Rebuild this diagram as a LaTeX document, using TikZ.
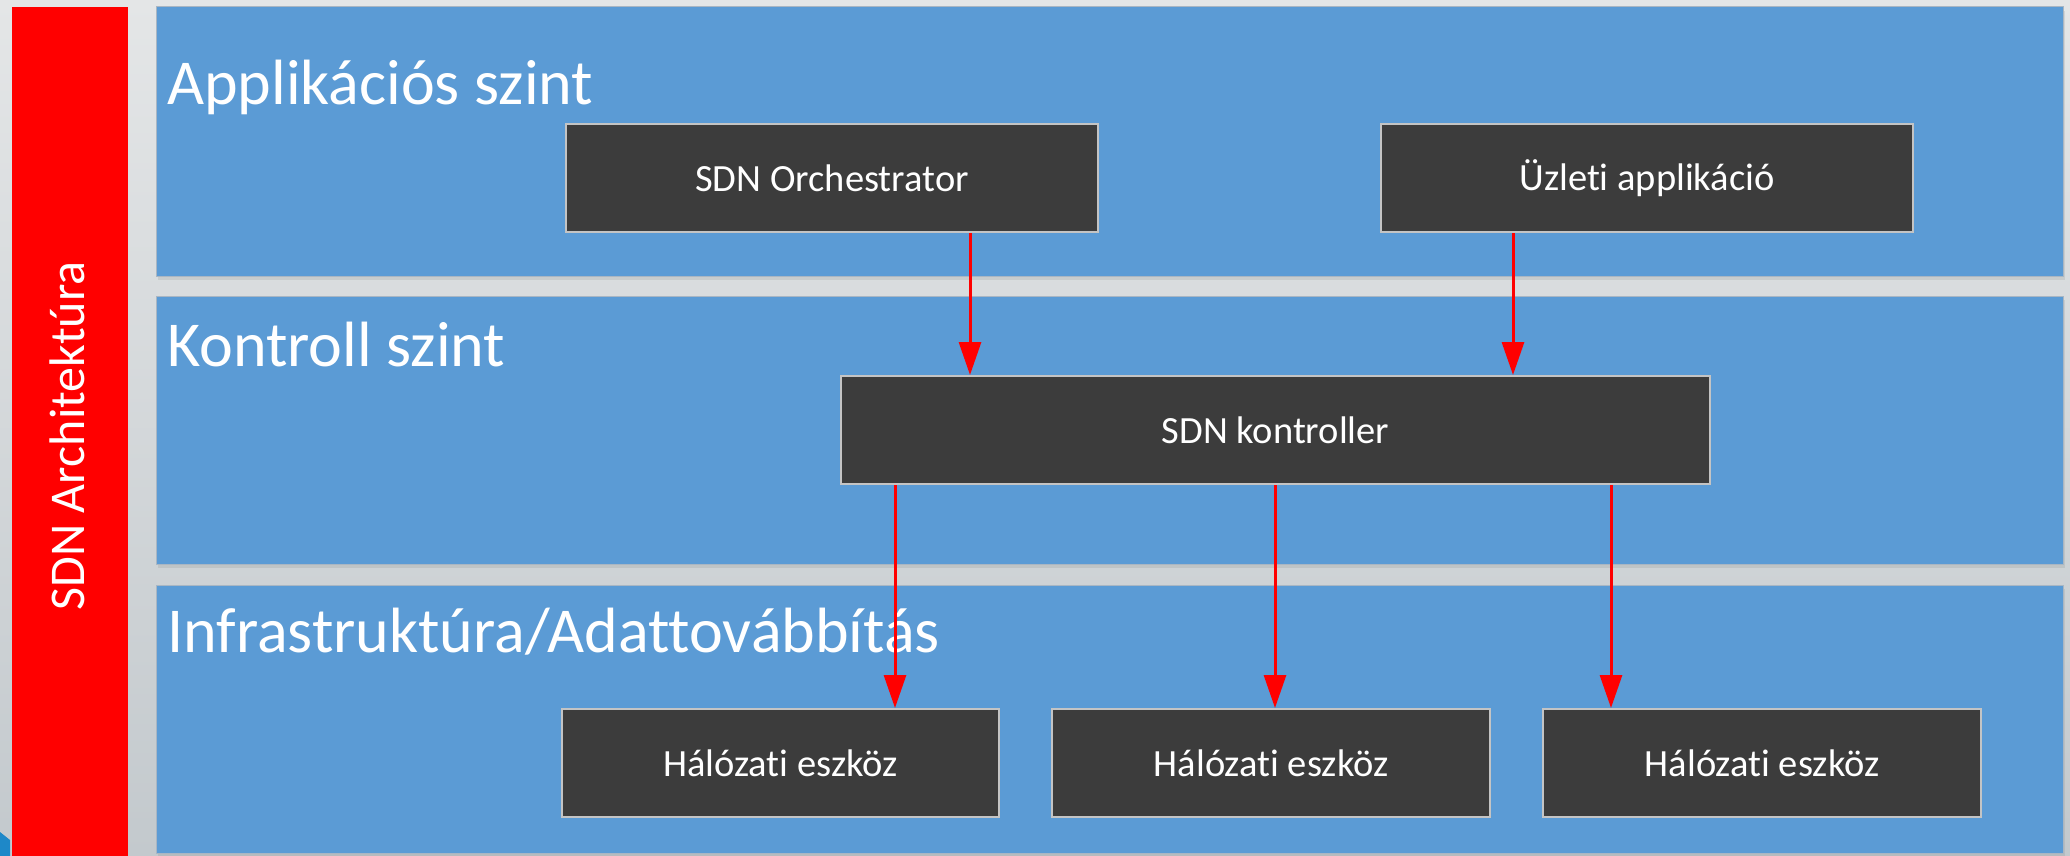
\documentclass[tikz,border=0pt]{standalone}
\usepackage{fontspec}
\setmainfont{Carlito}[RawFeature={-liga;-clig;-calt;-dlig}]
\usetikzlibrary{arrows.meta,shadows}
\definecolor{bandblue}{HTML}{5B9BD5}
\definecolor{bandedge}{HTML}{A9B6C3}
\definecolor{boxdark}{HTML}{3C3C3C}
\definecolor{boxedge}{HTML}{C4C4C4}
\definecolor{bgtop}{HTML}{E4E6E7}
\definecolor{bgbot}{HTML}{C3C9CD}
\definecolor{cornerblue}{HTML}{1E88C8}
\tikzset{
  band/.style={fill=bandblue, draw=bandedge, line width=1pt,
    drop shadow={opacity=0.18, shadow xshift=2pt, shadow yshift=-4pt}},
  layertitle/.style={anchor=base west, text=white, inner sep=0pt,
    font=\fontsize{64}{70}\selectfont},
  unit/.style={fill=boxdark, draw=boxedge, line width=2pt, text=white,
    inner sep=0pt, minimum height=108pt, font=\fontsize{38.5}{44}\selectfont},
  flow/.style={draw=red, line width=3pt, -{Triangle[width=22pt,length=33pt]}},
}
\begin{document}
\begin{tikzpicture}[x=1pt,y=-1pt]
\useasboundingbox (0,0) rectangle (2070,856);
% page background
\fill[top color=bgtop, bottom color=bgbot] (0,0) rectangle (2070,856);
\fill[cornerblue] (0,832) -- (10,840) -- (10,856) -- (0,856) -- cycle;

% side label
\fill[red] (12,7) rectangle (128,860);
\node[rotate=90, anchor=base, text=white, inner sep=0pt,
  font=\fontsize{50}{56}\selectfont] (side) at (84,436) {SDN Architektúra};

% three layers
\path[band] (156,7) rectangle (2063,276);
\path[band] (156,296) rectangle (2063,564);
\path[band] (156,585) rectangle (2063,853);
\node[layertitle] (t1) at (167,105) {Applikációs szint};
\node[layertitle] (t2) at (167,366) {Kontroll szint};
\node[layertitle] (t3) at (167,652) {Infrastruktúra/Adattovábbítás};

% components
\node[unit, minimum width=532pt] (orch) at (832,178) {SDN Orchestrator};
\node[unit, minimum width=532pt] (biz)  at (1647,178) {Üzleti applikáció};
\node[unit, minimum width=869pt] (ctrl) at (1275.5,430) {SDN kontroller};
\node[unit, minimum width=437pt] (dev1) at (780.5,763) {Hálózati eszköz};
\node[unit, minimum width=438pt] (dev2) at (1271,763) {Hálózati eszköz};
\node[unit, minimum width=438pt] (dev3) at (1762,763) {Hálózati eszköz};

% arrow columns
\coordinate (a1) at (970,0);
\coordinate (a2) at (1513,0);
\coordinate (b1) at (895,0);
\coordinate (b2) at (1275,0);
\coordinate (b3) at (1611,0);

\draw[flow] (orch.south -| a1) -- (ctrl.north -| a1);
\draw[flow] (biz.south -| a2) -- (ctrl.north -| a2);
\draw[flow] (ctrl.south -| b1) -- (dev1.north -| b1);
\draw[flow] (ctrl.south -| b2) -- (dev2.north -| b2);
\draw[flow] (ctrl.south -| b3) -- (dev3.north -| b3);
\end{tikzpicture}
\end{document}
